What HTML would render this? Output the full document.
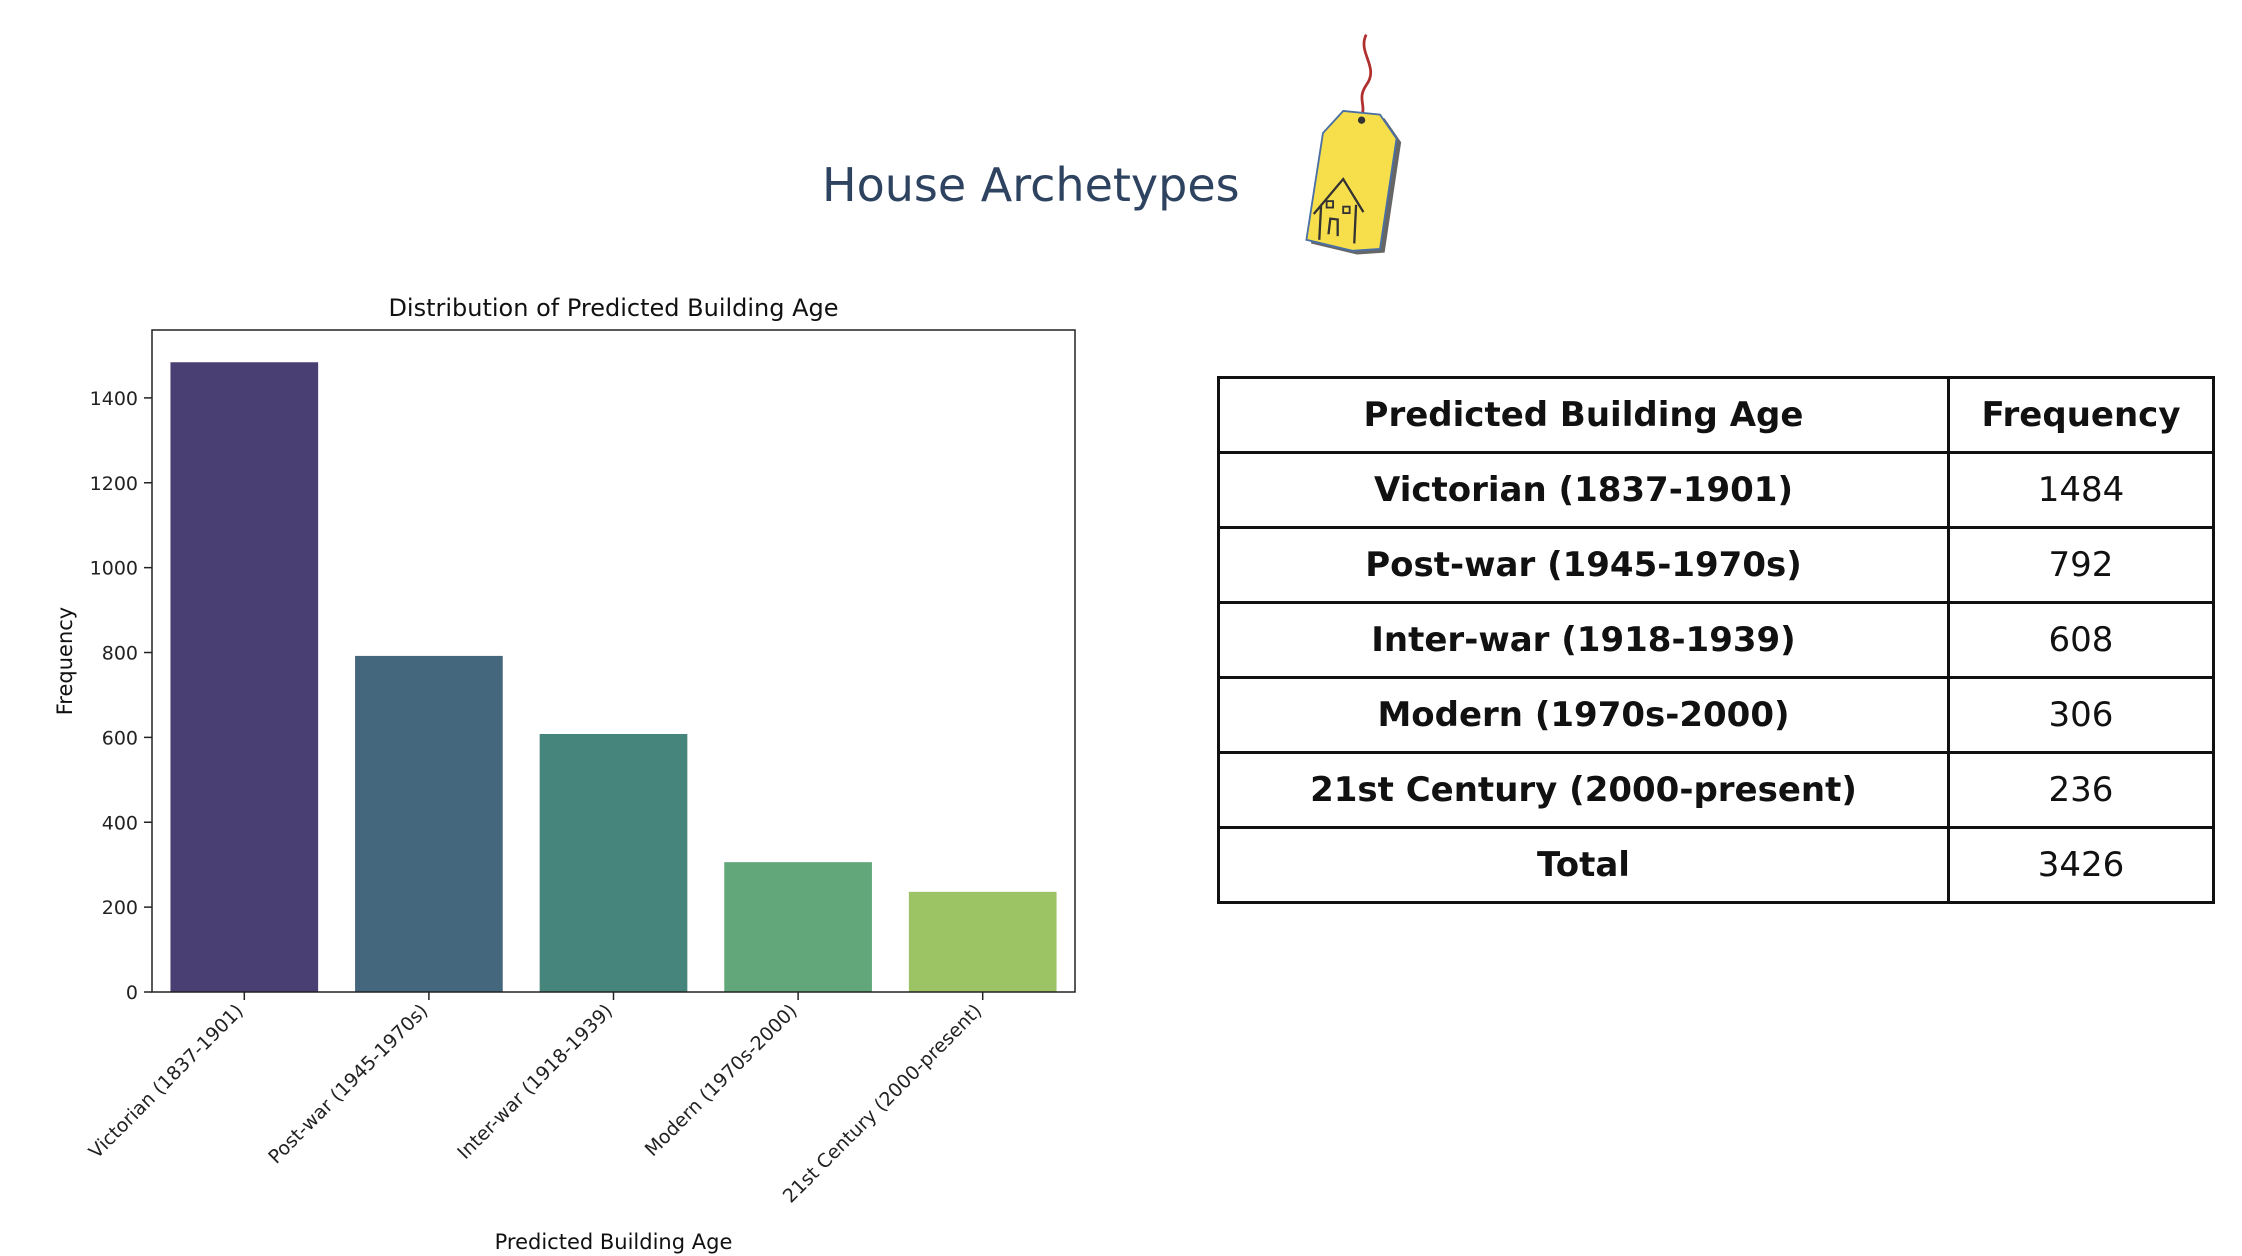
<!DOCTYPE html>
<html><head><meta charset="utf-8"><style>
body{margin:0;width:2242px;height:1256px;background:#fff;position:relative;overflow:hidden;font-family:"Liberation Sans","DejaVu Sans",sans-serif}
#title{position:absolute;left:822px;top:158px;font-size:46px;color:#2e4360;font-family:"DejaVu Sans","Liberation Sans",sans-serif}
table{position:absolute;left:1217px;top:376px;border-collapse:collapse;font-family:"DejaVu Sans","Liberation Sans",sans-serif}
td{border:3px solid #111;height:72px;font-size:34px;text-align:center;padding:0;color:#111}
td.a{width:727px;font-weight:bold}
td.b{width:262px}
</style></head><body>
<div id="title">House Archetypes</div>
<svg style="position:absolute;left:1288px;top:30px" width="130" height="250" viewBox="0 0 130 250">
<g transform="scale(0.92)">
<path d="M85 5 C75 25,100 40,85 60 C75 75,85 80,80 95" stroke="#b03030" stroke-width="3" fill="none"/>
<path d="M60 88 L100 92 L118 118 L100 238 L70 240 L20 228 L38 112 Z" fill="#666" transform="translate(5,4)"/>
<path d="M60 88 L100 92 L118 118 L100 238 L70 240 L20 228 L38 112 Z" fill="#f7df4c" stroke="#4a6fa5" stroke-width="2"/>
<circle cx="80" cy="98" r="4" fill="#333"/>
<path d="M28 200 L60 162 L82 198 M36 190 L34 228 M74 190 L72 232 M44 222 L46 205 L54 206 L54 224" stroke="#333" stroke-width="2.5" fill="none"/>
<rect x="42" y="186" width="7" height="7" fill="none" stroke="#333" stroke-width="2"/>
<rect x="60" y="192" width="7" height="7" fill="none" stroke="#333" stroke-width="2"/>
</g>
</svg>
<svg id="chart" width="1150" height="1256" style="position:absolute;left:0;top:0" font-family="DejaVu Sans, Liberation Sans, sans-serif"></svg>
<table>
<tr><td class="a">Predicted Building Age</td><td class="b" style="font-weight:bold">Frequency</td></tr>
<tr><td class="a">Victorian (1837-1901)</td><td class="b">1484</td></tr>
<tr><td class="a">Post-war (1945-1970s)</td><td class="b">792</td></tr>
<tr><td class="a">Inter-war (1918-1939)</td><td class="b">608</td></tr>
<tr><td class="a">Modern (1970s-2000)</td><td class="b">306</td></tr>
<tr><td class="a">21st Century (2000-present)</td><td class="b">236</td></tr>
<tr><td class="a">Total</td><td class="b">3426</td></tr>
</table>
<script>
const categories=["Victorian (1837-1901)","Post-war (1945-1970s)","Inter-war (1918-1939)","Modern (1970s-2000)","21st Century (2000-present)"];
const values=[1484,792,608,306,236];
const yTicks=[0,200,400,600,800,1000,1200,1400];
const colors=["#4a3f72","#45677e","#45857b","#62a77a","#9cc364"];
const svg=document.getElementById('chart');const NS="http://www.w3.org/2000/svg";
const L=152,R=1075,T=330,B=992;
const y=v=>B-v*(B-T)/1560;
const band=(R-L)/categories.length;
const x=i=>L+band*(i+0.5);
function mk(t,a,txt){const e=document.createElementNS(NS,t);for(const k in a)e.setAttribute(k,a[k]);if(txt!=null)e.textContent=txt;svg.appendChild(e);return e;}
categories.forEach((c,i)=>{
 const bw=band*0.8;
 const r=mk('rect',{x:x(i)-bw/2,y:y(values[i]),width:bw,height:B-y(values[i]),fill:colors[i]});
 
 
 mk('line',{x1:x(i),x2:x(i),y1:B,y2:B+8,stroke:'#222','stroke-width':1.5});
 const t=mk('text',{x:x(i),y:B+20,'font-size':19,fill:'#222','text-anchor':'end',transform:`rotate(-45 ${x(i)} ${B+20})`},c);
 
 
});
yTicks.forEach(v=>{
 mk('line',{x1:L-8,x2:L,y1:y(v),y2:y(v),stroke:'#222','stroke-width':1.5});
 const t=mk('text',{x:L-14,y:y(v)+7,'font-size':19,fill:'#222','text-anchor':'end'},v);
 
 
});
const f=mk('rect',{x:L,y:T,width:R-L,height:B-T,fill:'none',stroke:'#222','stroke-width':1.5});


const ct=mk('text',{x:(L+R)/2,y:316,'font-size':24,fill:'#111','text-anchor':'middle'},'Distribution of Predicted Building Age');


const xt=mk('text',{x:(L+R)/2,y:1249,'font-size':21,fill:'#111','text-anchor':'middle'},'Predicted Building Age');


const yt=mk('text',{x:72,y:661,'font-size':21,fill:'#111','text-anchor':'middle',transform:'rotate(-90 72 661)'},'Frequency');


</script>
</body></html>
